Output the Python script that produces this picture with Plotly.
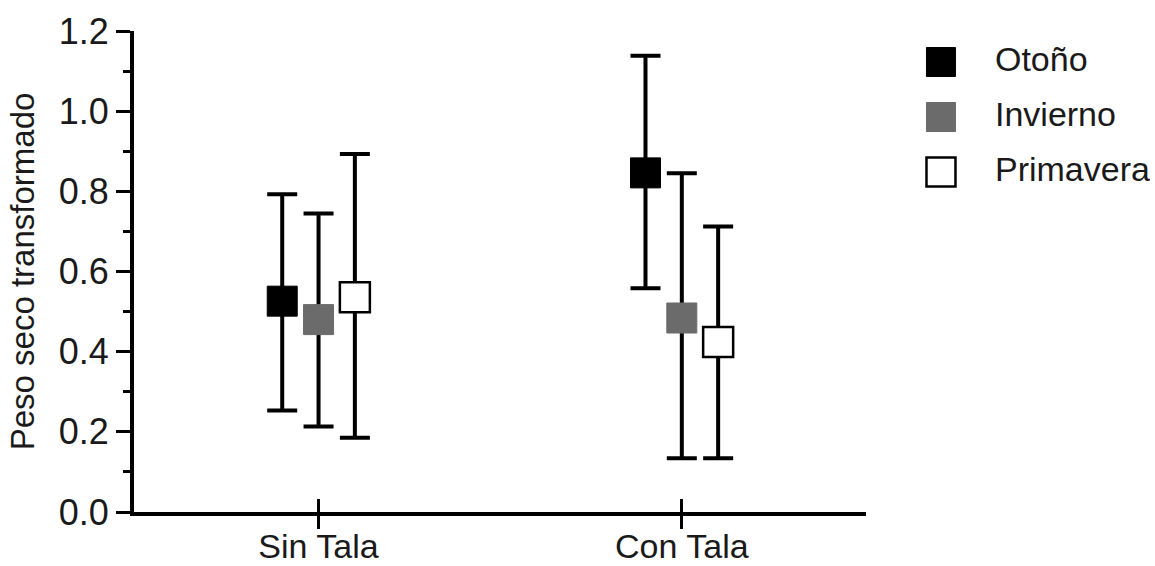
import plotly.graph_objects as go

# ---------------- data ----------------
categories = ["Sin Tala", "Con Tala"]
series_names = ["Otoño", "Invierno", "Primavera"]

otono_mean = [0.526, 0.846]
otono_upper = [0.793, 1.138]
otono_lower = [0.253, 0.558]

invierno_mean = [0.480, 0.484]
invierno_upper = [0.745, 0.845]
invierno_lower = [0.213, 0.134]

primavera_mean = [0.536, 0.424]
primavera_upper = [0.893, 0.712]
primavera_lower = [0.185, 0.134]

y_tick_values = [0.0, 0.2, 0.4, 0.6, 0.8, 1.0, 1.2]
y_tick_labels = ["0.0", "0.2", "0.4", "0.6", "0.8", "1.0", "1.2"]

# ---------------- styling ----------------
W, H = 1155, 566
FONT = "Liberation Sans, Arial, sans-serif"
TXT = "#1a1a1a"
ml, mr, mt, mb = 134, 5, 31, 54
paper_w = W - ml - mr
paper_h = H - mt - mb
plot_w = 732
x_dom_end = plot_w / paper_w

group_offset = 0.1
styles = [
    dict(fill="black", line="black", lw=1),
    dict(fill="#6b6b6b", line="#6b6b6b", lw=1),
    dict(fill="white", line="black", lw=2.5),
]
means = [otono_mean, invierno_mean, primavera_mean]
uppers = [otono_upper, invierno_upper, primavera_upper]
lowers = [otono_lower, invierno_lower, primavera_lower]

fig = go.Figure()
cat_idx = list(range(len(categories)))
for k, name in enumerate(series_names):
    off = (k - 1) * group_offset
    xs = [i + off for i in cat_idx]
    m, u, l = means[k], uppers[k], lowers[k]
    fig.add_trace(go.Scatter(
        x=xs, y=m, mode="markers", name=name, showlegend=False,
        marker=dict(symbol="square", size=30, color=styles[k]["fill"],
                    line=dict(color=styles[k]["line"], width=styles[k]["lw"])),
        error_y=dict(type="data", symmetric=False,
                     array=[a - b for a, b in zip(u, m)],
                     arrayminus=[b - c for b, c in zip(m, l)],
                     color="black", thickness=4, width=15),
        xaxis="x", yaxis="y",
    ))

# invisible trace for the overlay axis (crossing ticks)
fig.add_trace(go.Scatter(x=cat_idx, y=[0, 0], mode="markers",
                         marker=dict(opacity=0), hoverinfo="skip",
                         showlegend=False, xaxis="x3", yaxis="y"))

# custom legend (large square swatches)
leg_idx = list(range(len(series_names)))
fig.add_trace(go.Scatter(
    x=[0.071] * len(series_names), y=leg_idx, mode="markers",
    marker=dict(symbol="square", size=29,
                color=[s["fill"] for s in styles],
                line=dict(color=[s["line"] for s in styles],
                          width=[s["lw"] for s in styles])),
    hoverinfo="skip", showlegend=False, xaxis="x2", yaxis="y2"))
fig.add_trace(go.Scatter(
    x=[0.311] * len(series_names), y=leg_idx, mode="text",
    text=series_names, textposition="middle right",
    textfont=dict(family=FONT, size=34, color=TXT),
    hoverinfo="skip", showlegend=False, xaxis="x2", yaxis="y2"))

fig.update_layout(
    width=W, height=H,
    margin=dict(l=ml, r=mr, t=mt, b=mb, autoexpand=False),
    paper_bgcolor="white", plot_bgcolor="white",
    showlegend=False,
    font=dict(family=FONT, color=TXT),
    xaxis=dict(
        domain=[0, x_dom_end], range=[-0.508, 1.507],
        tickmode="array", tickvals=cat_idx, ticktext=categories,
        showline=True, linecolor="black", linewidth=4,
        ticks="outside", ticklen=13, tickwidth=3, tickcolor="black",
        ticklabelstandoff=-12,
        tickfont=dict(family=FONT, size=34, color=TXT),
        showgrid=False, zeroline=False, automargin=False,
    ),
    xaxis3=dict(
        overlaying="x", matches="x", anchor="y",
        tickmode="array", tickvals=cat_idx, showticklabels=False,
        ticks="inside", ticklen=13, tickwidth=3, tickcolor="black",
        showline=False, showgrid=False, zeroline=False,
    ),
    yaxis=dict(
        range=[0, 1.2], tickmode="array", tickvals=y_tick_values,
        ticktext=y_tick_labels,
        showline=True, linecolor="black", linewidth=4,
        ticks="outside", ticklen=14, tickwidth=3, tickcolor="black",
        minor=dict(tickmode="array", tickvals=[0.1, 0.3, 0.5, 0.7, 0.9, 1.1],
                   ticks="outside", ticklen=7, tickwidth=3, tickcolor="black",
                   showgrid=False),
        tickfont=dict(family=FONT, size=36, color=TXT),
        title=dict(text="Peso seco transformado",
                   font=dict(family=FONT, size=33, color=TXT)),
        showgrid=False, zeroline=False, automargin=False,
    ),
    xaxis2=dict(domain=[(925 - ml) / paper_w, 1], range=[0, 1],
                visible=False, anchor="y2"),
    yaxis2=dict(domain=[(H - mb - 194) / paper_h, (H - mb - 40) / paper_h],
                range=[2.4, -0.4], visible=False, anchor="x2"),
)

fig.write_html("out.html")
